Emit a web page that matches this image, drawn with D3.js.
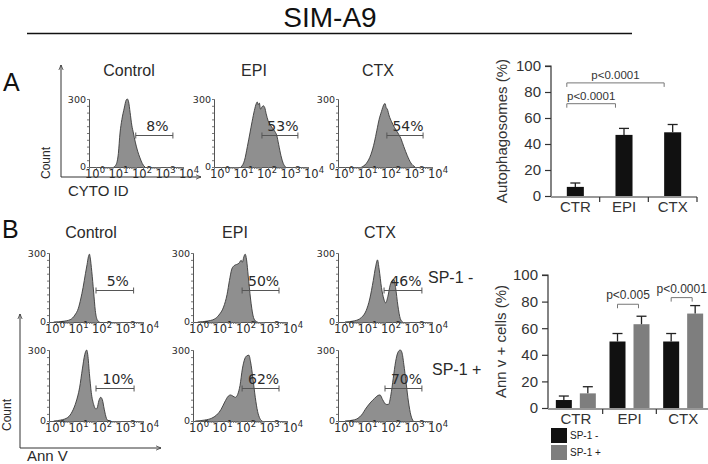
<!DOCTYPE html>
<html><head><meta charset="utf-8">
<script src="https://cdn.jsdelivr.net/npm/d3@7"></script>
<style>body{margin:0;background:#fff} svg{display:block;background:#fff}</style>
</head><body><svg id="c" width="708" height="464"></svg>
<script>
// ---------------- DATA ----------------
const figureTitle = "SIM-A9";
const histTitles = ["Control", "EPI", "CTX"];
const decadeExponents = [0, 1, 2, 3, 4];
const countTickLabels = [0, 300];
const gateLevel = 140; // count level of the gate bar

// Panel A: CYTO ID histograms  [log10 intensity, count]
const histA_control = [[1.05,0],[1.15,10],[1.25,60],[1.32,150],[1.4,210],[1.5,260],[1.58,295],[1.63,300],[1.68,290],[1.75,240],[1.82,185],[1.89,150],[1.97,110],[2.07,70],[2.17,40],[2.27,15],[2.38,0]];
const histA_epi = [[1.15,0],[1.3,30],[1.42,90],[1.53,150],[1.62,200],[1.72,250],[1.8,280],[1.84,287],[1.88,275],[1.93,282],[1.98,255],[2.04,265],[2.1,270],[2.16,262],[2.22,235],[2.3,205],[2.4,185],[2.5,170],[2.6,155],[2.67,140],[2.75,100],[2.85,50],[2.95,15],[3.05,0]];
const histA_ctx = [[1.0,0],[1.2,15],[1.4,55],[1.55,110],[1.65,160],[1.75,210],[1.85,245],[1.95,275],[2.0,280],[2.05,262],[2.1,255],[2.18,225],[2.28,200],[2.4,175],[2.55,150],[2.68,125],[2.8,90],[2.95,50],[3.1,18],[3.28,0]];
const gatesA = [[1.99,3.57],[2.04,3.57],[2.08,3.62]];
const percentsA = ["8%", "53%", "54%"];

// Panel B: Ann V histograms, SP-1 - (top) and SP-1 + (bottom)
const histB_minus_control = [[0.2,0],[0.6,3],[0.9,10],[1.1,30],[1.25,60],[1.35,100],[1.45,150],[1.55,210],[1.62,250],[1.68,285],[1.72,295],[1.75,282],[1.82,220],[1.9,130],[1.97,50],[2.05,10],[2.15,0]];
const histB_minus_epi = [[0.2,0],[0.6,4],[0.9,12],[1.1,30],[1.3,65],[1.45,120],[1.55,180],[1.65,230],[1.75,245],[1.85,250],[1.95,255],[2.05,268],[2.1,260],[2.16,282],[2.22,295],[2.28,270],[2.35,200],[2.45,100],[2.55,30],[2.65,5],[2.75,0]];
const histB_minus_ctx = [[0.3,0],[0.7,5],[1.0,20],[1.2,50],[1.35,100],[1.5,180],[1.6,240],[1.68,270],[1.75,230],[1.85,150],[1.95,100],[2.03,83],[2.12,110],[2.22,160],[2.3,180],[2.38,185],[2.45,150],[2.55,70],[2.65,15],[2.75,0]];
const histB_plus_control = [[0.2,0],[0.5,4],[0.8,15],[1.0,42],[1.15,80],[1.3,140],[1.42,220],[1.52,280],[1.6,300],[1.65,280],[1.72,200],[1.8,120],[1.9,70],[2.0,50],[2.05,55],[2.12,85],[2.2,100],[2.27,90],[2.35,50],[2.45,10],[2.55,0]];
const histB_plus_epi = [[0.1,0],[0.5,4],[0.8,12],[1.0,25],[1.2,50],[1.35,80],[1.5,105],[1.6,110],[1.7,105],[1.8,100],[1.9,112],[2.0,150],[2.1,220],[2.2,262],[2.3,276],[2.38,278],[2.45,250],[2.55,180],[2.65,100],[2.75,40],[2.85,10],[2.95,0]];
const histB_plus_ctx = [[0.3,0],[0.7,5],[1.0,25],[1.2,55],[1.4,80],[1.55,95],[1.7,108],[1.79,110],[1.9,90],[2.05,70],[2.15,70],[2.25,110],[2.35,180],[2.45,250],[2.55,290],[2.65,300],[2.72,290],[2.8,240],[2.9,160],[3.0,80],[3.1,25],[3.2,0]];
const gatesB_minus = [[2.0,3.6],[2.09,3.66],[1.96,3.57]];
const gatesB_plus = [[2.0,3.62],[2.09,3.66],[2.0,3.57]];
const percentsB_minus = ["5%", "50%", "46%"];
const percentsB_plus = ["10%", "62%", "70%"];
const rowLabelsB = ["SP-1 -", "SP-1 +"];

// Bar charts
const barCategories = ["CTR", "EPI", "CTX"];
const barTicks = [0, 20, 40, 60, 80, 100];
const autophagosomes = [7, 47, 49];
const autophagosomesErr = [3, 5, 6];
const sigA = [{from:"CTR", to:"EPI", level:71, label:"p<0.0001"}, {from:"CTR", to:"CTX", level:87, label:"p<0.0001"}];
const seriesB = ["SP-1 -", "SP-1 +"];
const annvMinus = [6, 50, 50];
const annvMinusErr = [3, 6, 6];
const annvPlus = [11, 63, 71];
const annvPlusErr = [5, 6, 6];
const sigB = [{cat:"EPI", level:78, label:"p<0.005"}, {cat:"CTX", level:83, label:"p<0.0001"}];

// ---------------- DRAW ----------------
const svg = d3.select("#c");
svg.append("rect").attr("width",708).attr("height",464).attr("fill","#fff");
const ARIAL = "'Liberation Sans', Arial, Helvetica, sans-serif";
const NARROW = "'Liberation Sans Narrow', 'Arial Narrow', 'Liberation Sans', sans-serif";
const DEJAVU = "'DejaVu Sans', Verdana, sans-serif";
const INK = "#2a2a2a";

// title + rule
svg.append("text").attr("x",330).attr("y",27).attr("text-anchor","middle")
  .attr("font-family",ARIAL).attr("font-size",28).attr("fill","#111").text(figureTitle);
svg.append("line").attr("x1",27).attr("x2",632).attr("y1",33.5).attr("y2",33.5)
  .attr("stroke","#111").attr("stroke-width",1.5);

// panel letters
svg.append("text").attr("x",3).attr("y",91).attr("font-family",ARIAL).attr("font-size",25).attr("fill","#111").text("A");
svg.append("text").attr("x",2).attr("y",238).attr("font-family",ARIAL).attr("font-size",25).attr("fill","#111").text("B");

// arrow marker
const defs = svg.append("defs");
defs.append("marker").attr("id","arr").attr("viewBox","0 -4 8 8").attr("refX",7).attr("refY",0)
  .attr("markerWidth",6).attr("markerHeight",6).attr("orient","auto")
  .append("path").attr("d","M0,-3L7,0L0,3").attr("fill","none").attr("stroke","#333").attr("stroke-width",1);

function bigAxes(x0, y0, yTop, xRight, xLabel, countX, countY, labelY){
  svg.append("line").attr("x1",x0).attr("y1",y0).attr("x2",x0).attr("y2",yTop)
    .attr("stroke","#333").attr("stroke-width",1).attr("marker-end","url(#arr)");
  svg.append("line").attr("x1",x0).attr("y1",y0).attr("x2",xRight).attr("y2",y0)
    .attr("stroke","#333").attr("stroke-width",1).attr("marker-end","url(#arr)");
  svg.append("text").attr("transform",`translate(${countX},${countY}) rotate(-90)`)
    .attr("text-anchor","middle").attr("font-family",ARIAL).attr("font-size",12).attr("fill",INK).text("Count");
  svg.append("text").attr("x",x0+7).attr("y",labelY).attr("font-family",ARIAL).attr("font-size",15).attr("fill",INK).text(xLabel);
}
bigAxes(61, 177, 65, 201, "CYTO ID", 50, 163, 196);
bigAxes(20, 448, 314, 161, "Ann V", 11, 415, 461);

function drawHist(ox, oy, h, data, gate, pct){
  const W = 94;
  const x = d3.scaleLinear().domain([0,4]).range([ox, ox+W]);
  const y = d3.scaleLinear().domain([0,300]).range([oy, oy-h]);
  const g = svg.append("g");
  const area = d3.area().x(d=>x(d[0])).y0(y(0)).y1(d=>y(d[1])).curve(d3.curveMonotoneX);
  const line = d3.line().x(d=>x(d[0])).y(d=>y(d[1])).curve(d3.curveMonotoneX);
  g.append("path").datum(data).attr("d",area).attr("fill","#8f8f8f");
  g.append("path").datum(data).attr("d",line).attr("fill","none").attr("stroke","#3a3a3a").attr("stroke-width",0.9);
  // y axis
  const ya = g.append("g").attr("transform",`translate(${ox},0)`)
    .call(d3.axisLeft(y).tickValues(d3.range(0,301,30)).tickSize(2).tickFormat(""));
  ya.select(".domain").attr("stroke","#555");
  ya.selectAll(".tick line").attr("stroke","#777");
  countTickLabels.forEach(v=>{
    g.append("text").attr("x",ox-3).attr("y",y(v)+(v===0?2.5:3.5)).attr("text-anchor","end")
      .attr("font-family",DEJAVU).attr("font-size",9.5).attr("fill",INK).text(v);
  });
  // x axis
  const minor = [];
  decadeExponents.slice(0,-1).forEach(e=>{ for(let k=1;k<10;k++) minor.push(e+Math.log10(k)); });
  minor.push(4);
  const xa = g.append("g").attr("transform",`translate(0,${oy})`)
    .call(d3.axisBottom(x).tickValues(minor).tickSize(2).tickFormat(""));
  xa.select(".domain").attr("stroke","#555");
  xa.selectAll(".tick line").attr("stroke","#777");
  decadeExponents.forEach(e=>{
    const t = g.append("text").attr("x",x(e)-4).attr("y",oy+10.5).attr("text-anchor","start")
      .attr("font-family",DEJAVU).attr("font-size",11.5).attr("fill",INK);
    t.append("tspan").text("10");
    t.append("tspan").attr("font-size",8.5).attr("dy",-5).text(e);
  });
  // gate
  const gy = Math.round(y(gateLevel))+0.5;
  g.append("line").attr("x1",x(gate[0])).attr("x2",x(gate[1])).attr("y1",gy).attr("y2",gy).attr("stroke","#555").attr("stroke-width",1);
  gate.forEach(v=>g.append("line").attr("x1",x(v)).attr("x2",x(v)).attr("y1",gy-3).attr("y2",gy+3).attr("stroke","#555"));
  g.append("text").attr("x",(x(gate[0])+x(gate[1]))/2+3).attr("y",gy-5).attr("text-anchor","middle")
    .attr("font-family",DEJAVU).attr("font-size",14).attr("fill",INK).text(pct);
}

// panel A
const aOrig = [89, 214, 338];
[histA_control, histA_epi, histA_ctx].forEach((d,i)=>drawHist(aOrig[i], 167, 68, d, gatesA[i], percentsA[i]));
histTitles.forEach((t,i)=>svg.append("text").attr("x",aOrig[i]+40).attr("y",76).attr("text-anchor","middle")
  .attr("font-family",NARROW).attr("font-size",16).attr("fill",INK).text(t));

// panel B
const bOrig = [49, 193, 338];
[histB_minus_control, histB_minus_epi, histB_minus_ctx].forEach((d,i)=>drawHist(bOrig[i], 322, 69, d, gatesB_minus[i], percentsB_minus[i]));
[histB_plus_control, histB_plus_epi, histB_plus_ctx].forEach((d,i)=>drawHist(bOrig[i], 421, 71, d, gatesB_plus[i], percentsB_plus[i]));
histTitles.forEach((t,i)=>svg.append("text").attr("x",bOrig[i]+42).attr("y",238).attr("text-anchor","middle")
  .attr("font-family",NARROW).attr("font-size",16).attr("fill",INK).text(t));
svg.append("text").attr("x",428).attr("y",283).attr("font-family",ARIAL).attr("font-size",16).attr("fill",INK).text(rowLabelsB[0]);
svg.append("text").attr("x",432).attr("y",375).attr("font-family",ARIAL).attr("font-size",16).attr("fill",INK).text(rowLabelsB[1]);

// ---------- bar chart helper for axes ----------
function barAxes(y, xBand, yAxisX, x0, xEnd, baseY, ylabel, labelX){
  const ya = svg.append("g").attr("transform",`translate(${yAxisX},0)`)
    .call(d3.axisLeft(y).tickValues(barTicks).tickSize(6).tickPadding(4));
  ya.select(".domain").attr("stroke","#333").attr("stroke-width",1.2).attr("d",`M-6,${y(100)}H0V${y(0)}`);
  ya.selectAll(".tick line").attr("stroke","#333").attr("stroke-width",1.2);
  ya.selectAll("text").attr("font-family",ARIAL).attr("font-size",15).attr("fill","#333");
  const xa = svg.append("g").attr("transform",`translate(0,${baseY})`)
    .call(d3.axisBottom(xBand).tickSize(0).tickPadding(4));
  xa.select(".domain").attr("stroke","#333").attr("stroke-width",1.2).attr("d",`M${x0},0H${xEnd}`);
  xa.selectAll("text").attr("font-family",ARIAL).attr("font-size",15).attr("fill","#333");
  barCategories.forEach((c,i)=>{
    const bx = xBand(c) + xBand.bandwidth()/2 + xBand.step()/2;
    xa.append("line").attr("x1",bx).attr("x2",bx).attr("y1",0).attr("y2",5).attr("stroke","#333").attr("stroke-width",1.2);
  });
  svg.append("text").attr("transform",`translate(${labelX},${(y(0)+y(100))/2}) rotate(-90)`)
    .attr("text-anchor","middle").attr("font-family",ARIAL).attr("font-size",15).attr("fill","#333").text(ylabel);
}

function errBar(cx, top, errTop){
  svg.append("line").attr("x1",cx).attr("x2",cx).attr("y1",top).attr("y2",errTop).attr("stroke","#222").attr("stroke-width",1.3);
  svg.append("line").attr("x1",cx-5).attr("x2",cx+5).attr("y1",errTop).attr("y2",errTop).attr("stroke","#222").attr("stroke-width",1.3);
}

// ---------- bar chart A ----------
{
  const y = d3.scaleLinear().domain([0,100]).range([196,66]);
  const x = d3.scaleBand().domain(barCategories).range([551,697]).paddingInner(0.65).paddingOuter(0.325);
  barAxes(y, x, 551, 551, 697, 197, "Autophagosomes (%)", 507);
  barCategories.forEach((c,i)=>{
    svg.append("rect").attr("x",x(c)).attr("y",y(autophagosomes[i])).attr("width",x.bandwidth())
      .attr("height",y(0)-y(autophagosomes[i])).attr("fill","#111");
    errBar(x(c)+x.bandwidth()/2, y(autophagosomes[i]), y(autophagosomes[i]+autophagosomesErr[i]));
  });
  sigA.forEach(s=>{
    const x1 = x(s.from), x2 = x(s.to), yy = y(s.level);
    svg.append("path").attr("d",`M${x1},${yy+4}V${yy}H${x2}V${yy+4}`).attr("fill","none").attr("stroke","#777").attr("stroke-width",1);
    svg.append("text").attr("x",(x1+x2)/2).attr("y",yy-4).attr("text-anchor","middle")
      .attr("font-family",ARIAL).attr("font-size",11.5).attr("fill","#333").text(s.label);
  });
}

// ---------- bar chart B ----------
{
  const y = d3.scaleLinear().domain([0,100]).range([408,275]);
  const x0 = d3.scaleBand().domain(barCategories).range([549,710]);
  const x1 = d3.scaleBand().domain(seriesB).range([0,x0.bandwidth()]).paddingInner(1/3).paddingOuter(0.285);
  barAxes(y, x0, 548, 548, 708, 409, "Ann v + cells (%)", 506);
  const vals = [annvMinus, annvPlus], errs = [annvMinusErr, annvPlusErr], cols = ["#111","#7e7e7e"];
  barCategories.forEach((c,i)=>{
    seriesB.forEach((s,j)=>{
      const bx = x0(c)+x1(s);
      svg.append("rect").attr("x",bx).attr("y",y(vals[j][i])).attr("width",x1.bandwidth())
        .attr("height",y(0)-y(vals[j][i])).attr("fill",cols[j]);
      errBar(bx+x1.bandwidth()/2, y(vals[j][i]), y(vals[j][i]+errs[j][i]));
    });
  });
  sigB.forEach(s=>{
    const xa = x0(s.cat)+x1(seriesB[0])+x1.bandwidth()/2, xb = x0(s.cat)+x1(seriesB[1])+x1.bandwidth()/2 - 3;
    const yy = y(s.level);
    svg.append("path").attr("d",`M${xa},${yy+4}V${yy}H${xb}V${yy+4}`).attr("fill","none").attr("stroke","#777").attr("stroke-width",1);
    svg.append("text").attr("x",(xa+xb)/2).attr("y",yy-5).attr("text-anchor","middle")
      .attr("font-family",ARIAL).attr("font-size",12).attr("fill","#333").text(s.label);
  });
  // legend
  seriesB.forEach((s,j)=>{
    svg.append("rect").attr("x",551).attr("y",428+j*17).attr("width",16).attr("height",15).attr("fill",cols[j]);
    svg.append("text").attr("x",570).attr("y",439+j*17).attr("font-family",ARIAL).attr("font-size",10).attr("fill","#222").text(s);
  });
}
</script></body></html>
